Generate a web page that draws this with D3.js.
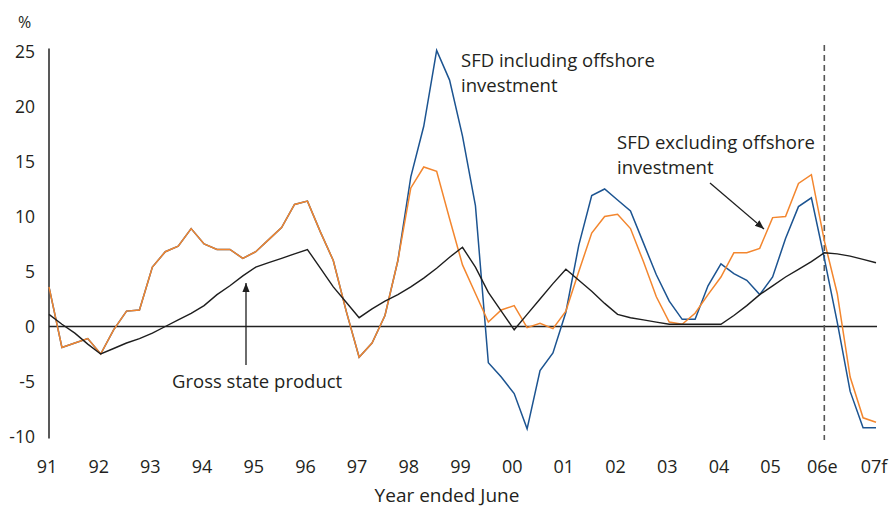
<!DOCTYPE html>
<html>
<head>
<meta charset="utf-8">
<script src="https://cdn.jsdelivr.net/npm/d3@7"></script>
<style>
  body { margin: 0; background: #fff; }
  text { font-family: "Open Sans", sans-serif; fill: #231f20; }
</style>
</head>
<body>
<div id="chart"></div>
<script>
// tick labels along the bottom, one per year ended June
var yearLabels = ["91", "92", "93", "94", "95", "96", "97", "98", "99", "00",
    "01", "02", "03", "04", "05", "06e", "07f"];
var yTicks = [-10, -5, 0, 5, 10, 15, 20, 25];

// quarterly growth, %
var gsp = [1.1, 0.2, -0.6, -1.6, -2.5, -2.0, -1.5, -1.1, -0.6, 0.0, 0.6, 1.2, 1.9, 2.9, 3.7, 4.6,
    5.4, 5.8, 6.2, 6.6, 7.0, 5.3, 3.6, 2.2, 0.8, 1.6, 2.3, 2.9, 3.6, 4.4, 5.3, 6.3,
    7.2, 5.4, 3.1, 1.4, -0.3, 1.1, 2.5, 3.9, 5.2, 4.2, 3.2, 2.1, 1.1, 0.8, 0.6, 0.4,
    0.2, 0.2, 0.2, 0.2, 0.2, 1.0, 1.9, 2.9, 3.7, 4.5, 5.2, 5.9, 6.7, 6.6, 6.4, 6.1, 5.8];

var sfdExcl = [3.6, -1.9, -1.5, -1.1, -2.5, -0.3, 1.4, 1.5, 5.4, 6.8, 7.3, 8.9, 7.5, 7.0, 7.0, 6.2,
    6.8, 7.9, 9.0, 11.1, 11.4, 8.6, 6.0, 1.4, -2.8, -1.5, 1.0, 6.0, 12.6, 14.5, 14.1, 9.8,
    5.6, 3.0, 0.4, 1.5, 1.9, -0.1, 0.3, -0.2, 1.4, 5.0, 8.5, 10.0, 10.2, 8.9, 5.9, 2.7,
    0.4, 0.2, 1.2, 2.9, 4.5, 6.7, 6.7, 7.1, 9.9, 10.0, 13.0, 13.8, 7.8, 3.0, -4.6, -8.3, -8.7];

var sfdIncl = [3.6, -1.9, -1.5, -1.1, -2.5, -0.3, 1.4, 1.5, 5.4, 6.8, 7.3, 8.9, 7.5, 7.0, 7.0, 6.2,
    6.8, 7.9, 9.0, 11.1, 11.4, 8.6, 6.0, 1.4, -2.8, -1.5, 1.0, 6.0, 13.6, 18.2, 25.1, 22.4,
    17.3, 11.0, -3.3, -4.6, -6.1, -9.3, -4.0, -2.4, 1.3, 7.4, 11.9, 12.5, 11.5, 10.5, 7.6, 4.7,
    2.3, 0.65, 0.65, 3.7, 5.7, 4.8, 4.2, 2.9, 4.5, 8.0, 10.9, 11.7, 6.2, 0.4, -5.9, -9.2, -9.2];

var width = 889,
    height = 507;

var svg = d3.select('#chart')
    .append('svg')
    .attr('width', width)
    .attr('height', height);

// x in years since the start of 91, data is quarterly
var x = d3.scaleLinear().domain([0, 16]).range([49, 876]);
var y = d3.scaleLinear().domain([-10, 25]).range([436.5, 51.5]);

var line = d3.line()
    .x(function (d, i) { return x(i / 4); })
    .y(function (d) { return y(d); });

// y axis line and labels
svg.append('line')
    .attr('x1', x(0)).attr('x2', x(0))
    .attr('y1', y(25) - 3).attr('y2', y(-10) + 2)
    .attr('stroke', '#222').attr('stroke-width', 1.5);

svg.selectAll('.ylab')
    .data(yTicks)
    .enter()
    .append('text')
    .attr('class', 'ylab')
    .attr('x', 35)
    .attr('y', function (d) { return y(d); })
    .attr('dy', '0.35em')
    .attr('text-anchor', 'end')
    .style('font-size', '17.5px')
    .text(function (d) { return d; });

svg.append('text')
    .attr('x', 18).attr('y', 28)
    .style('font-size', '16px')
    .text('%');

// zero line
svg.append('line')
    .attr('x1', x(0)).attr('x2', x(16) + 1)
    .attr('y1', y(0)).attr('y2', y(0))
    .attr('stroke', '#222').attr('stroke-width', 1.3);

// x labels
svg.selectAll('.xlab')
    .data(yearLabels)
    .enter()
    .append('text')
    .attr('class', 'xlab')
    .attr('x', function (d, i) { return x(i) - 2; })
    .attr('y', 473)
    .attr('text-anchor', 'middle')
    .style('font-size', '18px')
    .text(function (d) { return d; });

svg.append('text')
    .attr('x', 447).attr('y', 502)
    .attr('text-anchor', 'middle')
    .style('font-size', '19px')
    .text('Year ended June');

// forecast divider
svg.append('line')
    .attr('x1', x(15)).attr('x2', x(15))
    .attr('y1', 45).attr('y2', 440)
    .attr('stroke', '#555').attr('stroke-width', 1.6)
    .attr('stroke-dasharray', '6,4');

// series
svg.append('path').datum(sfdIncl)
    .attr('d', line).attr('fill', 'none')
    .attr('stroke', '#1c5491').attr('stroke-width', 1.5);

svg.append('path').datum(sfdExcl)
    .attr('d', line).attr('fill', 'none')
    .attr('stroke', '#f3862e').attr('stroke-width', 1.5);

svg.append('path').datum(gsp)
    .attr('d', line).attr('fill', 'none')
    .attr('stroke', '#1e1e1e').attr('stroke-width', 1.4);

// annotations
var defs = svg.append('defs');
defs.append('marker')
    .attr('id', 'arrow')
    .attr('viewBox', '0 0 10 10')
    .attr('refX', 10).attr('refY', 5)
    .attr('markerWidth', 7).attr('markerHeight', 7)
    .attr('orient', 'auto')
    .append('path')
    .attr('d', 'M0,1 L10,5 L0,9 Z')
    .attr('fill', '#1e1e1e');

function label(lines, lx, ly) {
    var t = svg.append('text')
        .attr('x', lx).attr('y', ly)
        .style('font-size', '18.5px');
    lines.forEach(function (s, i) {
        t.append('tspan').attr('x', lx).attr('dy', i ? 25 : 0).text(s);
    });
}

label(['SFD including offshore', 'investment'], 461, 67);
label(['SFD excluding offshore', 'investment'], 617, 149);
label(['Gross state product'], 172, 388);

svg.append('line')
    .attr('x1', 246).attr('y1', 365)
    .attr('x2', 246).attr('y2', 283)
    .attr('stroke', '#1e1e1e').attr('stroke-width', 1.3)
    .attr('marker-end', 'url(#arrow)');

svg.append('line')
    .attr('x1', 710).attr('y1', 183)
    .attr('x2', 764).attr('y2', 229)
    .attr('stroke', '#1e1e1e').attr('stroke-width', 1.3)
    .attr('marker-end', 'url(#arrow)');
</script>
</body>
</html>
